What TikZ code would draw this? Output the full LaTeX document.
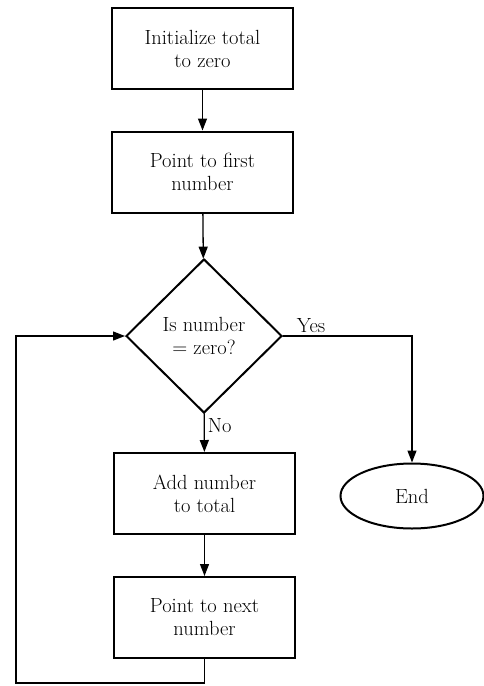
\documentclass[tikz,border=0pt]{standalone}
\usepackage{tikz}
\usetikzlibrary{shapes.geometric,arrows.meta}

\begin{document}
\begin{tikzpicture}[x=1pt, y=-1pt, line cap=round, >={Triangle[length=12pt,width=9pt]},
  txt/.style={font=\fontsize{20.5}{23}\selectfont, align=center},
  stepbox/.style={txt, draw, line width=2pt, minimum width=181pt, minimum height=81pt, inner sep=0pt},
  testbox/.style={txt, draw, diamond, line width=2pt, minimum width=156pt, minimum height=154pt, inner sep=0pt},
  endbox/.style={txt, draw, ellipse, line width=2pt, minimum width=143pt, minimum height=65pt, inner sep=0pt},
  flow/.style={->, line width=1.3pt}]

\useasboundingbox (0,0) rectangle (483,686);

\node[stepbox] (init) at (202.5,48.5) {Initialize total\\to zero};
\node[stepbox] (first) at (202.5,172) {Point to first\\number};
\node[testbox] (test) at (204,336) {Is number\\$=$ zero?};
\node[stepbox] (add) at (204.5,493.5) {Add number\\to total};
\node[stepbox] (next) at (204.5,617.5) {Point to next\\number};
\node[endbox] (end) at (412,496) {End};

\coordinate (back) at (16,683);

\draw[flow] (init) -- (first);
\draw[flow] (first) -- (test);
\draw[flow] (test) -- node[txt, right, pos=.3, inner sep=3pt] {No} (add);
\draw[flow] (add) -- (next);
\draw[flow] (test.east) -| node[txt, above right, pos=.04, inner sep=3pt] {Yes} (end.north);
\draw[flow] (next.south) |- (back) |- (test.west);

\end{tikzpicture}
\end{document}
